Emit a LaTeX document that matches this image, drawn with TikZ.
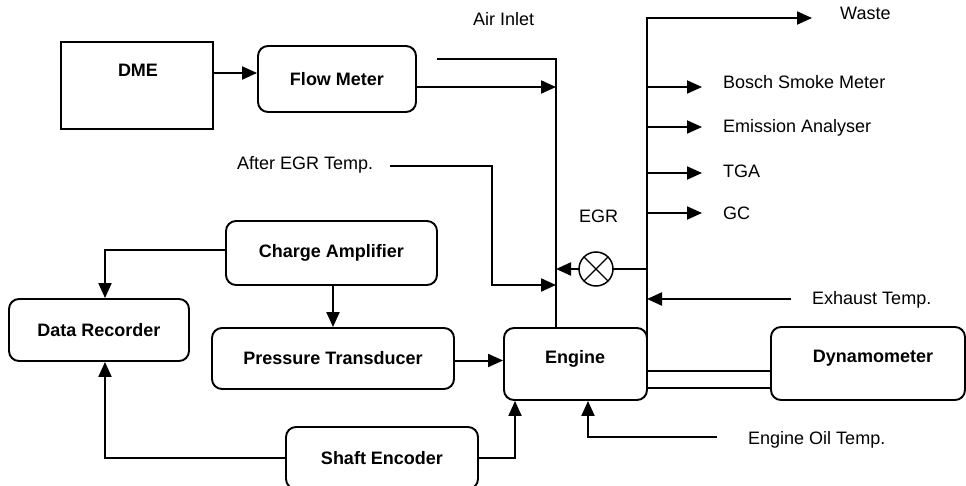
\documentclass[tikz,border=0pt]{standalone}
\usepackage{fontspec}
\setmainfont{Liberation Sans}
\usetikzlibrary{arrows.meta}
\begin{document}
\begin{tikzpicture}[x=1pt,y=-1pt,
  every node/.style={font=\fontsize{18}{21}\selectfont, inner sep=0pt},
  box/.style={draw, line width=1.9pt, rounded corners=10pt, font=\fontsize{18}{21}\selectfont\bfseries},
  btext/.style={font=\fontsize{18}{21}\selectfont\bfseries},
  lbl/.style={anchor=base west},
  conn/.style={line width=2pt},
  arr/.style={line width=2pt, -{Triangle[length=15pt,width=13pt]}},
  thinline/.style={line width=1.4pt}
]
\useasboundingbox (0,0) rectangle (966,486);

% boxes
\node[box, rounded corners=0pt, minimum width=152pt, minimum height=87pt] (dme) at (137,85.5) {};
\node[btext] (dmet) at (138,70) {DME};
\node[box, minimum width=158pt, minimum height=66pt] (flow) at (337,79) {Flow Meter};
\node[box, minimum width=211pt, minimum height=64pt] (ca) at (331.5,253) {Charge Amplifier};
\node[box, minimum width=180pt, minimum height=62pt] (dr) at (99,330) {Data Recorder};
\node[box, minimum width=242pt, minimum height=61pt] (pt) at (333,358.5) {Pressure Transducer};
\node[box, minimum width=143pt, minimum height=72pt] (engine) at (575.5,364) {};
\node[btext] (enginet) at (575,358.7) {Engine};
\node[box, minimum width=194pt, minimum height=73pt] (dyno) at (868,363.5) {};
\node[btext] (dynot) at (873,358.5) {Dynamometer};
\node[box, minimum width=192pt, minimum height=62pt] (se) at (382,458) {Shaft Encoder};
\node[draw, circle, line width=1.5pt, minimum size=34pt, outer sep=0pt] (valve) at (596,269) {};

% labels
\node[lbl] (tair) at (473,26) {Air Inlet};
\node[lbl] (twaste) at (840,20) {Waste};
\node[lbl] (tbosch) at (723,89) {Bosch Smoke Meter};
\node[lbl] (temis) at (723,133) {Emission Analyser};
\node[lbl] (ttga) at (723,178) {TGA};
\node[lbl] (tgc) at (723,220) {GC};
\node[lbl] (tegr) at (579,223) {EGR};
\node[lbl] (tafter) at (237,170) {After EGR Temp.};
\node[lbl] (texh) at (812,305) {Exhaust Temp.};
\node[lbl] (toil) at (748,444) {Engine Oil Temp.};

% coordinates
\coordinate (airS) at (437,59);
\coordinate (airC) at (556,59);
\coordinate (exT) at (647,18);
\coordinate (wasteE) at (812,18);
\coordinate (boschE) at (702,87);
\coordinate (emisE) at (702,127);
\coordinate (tgaE) at (702,173);
\coordinate (gcE) at (702,213);
\coordinate (aS) at (390,166);
\coordinate (aC1) at (492,166);
\coordinate (aC2) at (492,285);
\coordinate (exhS) at (791,299);
\coordinate (oilS) at (717,437);
\coordinate (oilC) at (588,437);
\coordinate (seR) at (515,458);
\coordinate (drX) at (105,250);

% connectors
\draw[arr] ([yshift=12.5pt]dme.east) -- ([yshift=12.5pt]dme.east -| flow.west);
\draw[conn] (airS) -- (airC) -- (airC |- engine.north);
\draw[arr] ([yshift=-8pt]flow.east) -- ([yshift=-8pt]flow.east -| airC);

\draw[arr] (exT |- engine.east) -- (exT) -- (wasteE);
\draw[arr] (exT |- boschE) -- (boschE);
\draw[arr] (exT |- emisE) -- (emisE);
\draw[arr] (exT |- tgaE) -- (tgaE);
\draw[arr] (exT |- gcE) -- (gcE);

\draw[arr] (aS) -- (aC1) -- (aC2) -- (aC2 -| airC);
\draw[arr] (valve.west) -- (valve.west -| airC);
\draw[thinline] (valve.east) -- (valve.east -| exT);
\draw[line width=1.3pt] (valve.north west) -- (valve.south east)
                        (valve.north east) -- (valve.south west);

\draw[arr] (exhS) -- (exhS -| exT);
\draw[arr] (oilS) -- (oilC) -- (oilC |- engine.south);

\draw[arr] (se.east) -- (se.east -| seR) -- (seR |- engine.south);
\draw[arr] (se.west) -- (se.west -| drX) -- (drX |- dr.south);
\draw[arr] ([yshift=3pt]ca.west) -- ([yshift=3pt]ca.west -| drX) -- (drX |- dr.north);
\draw[arr] (ca.south -| pt.north) -- (pt.north);
\draw[arr] ([yshift=-2pt]pt.east) -- ([yshift=-2pt]pt.east -| engine.west);

\draw[thinline] ([yshift=-7pt]engine.east) -- ([yshift=-7pt]engine.east -| dyno.west);
\draw[thinline] ([yshift=-24pt]engine.east) -- ([yshift=-24pt]engine.east -| dyno.west);
\end{tikzpicture}
\end{document}
